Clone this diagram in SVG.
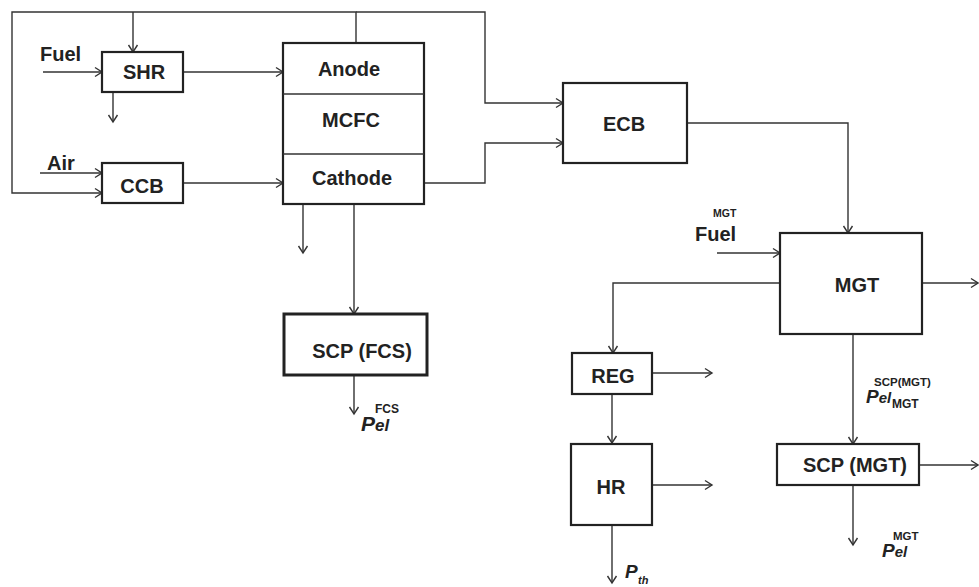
<svg xmlns="http://www.w3.org/2000/svg" width="979" height="587" viewBox="0 0 979 587">
<style>
.ln{fill:none;stroke:#333;stroke-width:1.4;marker-end:url(#ah)}
.ln0{fill:none;stroke:#333;stroke-width:1.4}
.box{fill:#fff;stroke:#222;stroke-width:2.2}
.t{font-family:"Liberation Sans",Arial,sans-serif;font-weight:bold;font-size:20px;fill:#222;text-anchor:middle}
.lab{font-family:"Liberation Sans",Arial,sans-serif;font-weight:bold;font-size:20px;fill:#222}
.sm{font-family:"Liberation Sans",Arial,sans-serif;font-weight:bold;font-size:10.5px;fill:#222}
.p{font-family:"Liberation Sans",Arial,sans-serif;font-weight:bold;font-style:italic;fill:#222}
</style>
<defs>
<marker id="ah" markerUnits="userSpaceOnUse" markerWidth="10" markerHeight="12" refX="8" refY="5" orient="auto" overflow="visible">
<path d="M1,0.5 L8,5 L1,9.5" fill="none" stroke="#333" stroke-width="1.4"/>
</marker>
</defs>
<rect width="979" height="587" fill="#fff"/>
<g id="connectors">
<path class="ln" d="M356,43 V12 H12 V193 H102"/>
<path class="ln" d="M356,12 H485 V103 H563"/>
<path class="ln" d="M133,12 V52"/>
<path class="ln" d="M43,72 H102"/>
<path class="ln" d="M183,72 H283"/>
<path class="ln" d="M113,92 V122"/>
<path class="ln" d="M40,173 H102"/>
<path class="ln" d="M183,183 H283"/>
<path class="ln" d="M424,183 H485 V143 H563"/>
<path class="ln" d="M303,204 V253"/>
<path class="ln" d="M354,204 V314"/>
<path class="ln" d="M354,375 V414"/>
<path class="ln" d="M687,123 H848 V233"/>
<path class="ln" d="M717,253 H780"/>
<path class="ln" d="M922,283 H978"/>
<path class="ln" d="M780,283 H613 V353"/>
<path class="ln" d="M652,373 H712"/>
<path class="ln" d="M612,394 V443"/>
<path class="ln" d="M652,485 H712"/>
<path class="ln" d="M612,525 V583"/>
<path class="ln" d="M853,334 V444"/>
<path class="ln" d="M919,465 H978"/>
<path class="ln" d="M853,485 V545"/>
</g>
<g id="SHR"><rect class="box" x="102" y="52" width="81" height="40"/><text class="t" x="144" y="79">SHR</text></g>
<g id="CCB"><rect class="box" x="102" y="163" width="81" height="40"/><text class="t" x="142" y="193">CCB</text></g>
<g id="MCFC">
<rect class="box" x="283" y="43" width="141" height="161"/>
<line class="ln0" x1="283" y1="94" x2="424" y2="94"/>
<line class="ln0" x1="283" y1="154" x2="424" y2="154"/>
<text class="t" x="349" y="76">Anode</text>
<text class="t" x="351" y="127">MCFC</text>
<text class="t" x="352" y="185">Cathode</text>
</g>
<g id="ECB"><rect class="box" x="563" y="83" width="124" height="80"/><text class="t" x="624" y="131">ECB</text></g>
<g id="MGT"><rect class="box" x="780" y="233" width="142" height="101"/><text class="t" x="857" y="292">MGT</text></g>
<g id="SCP_FCS"><rect class="box" x="284" y="314" width="143" height="61" style="stroke-width:3"/><text class="t" x="362" y="358">SCP (FCS)</text></g>
<g id="REG"><rect class="box" x="572" y="353" width="80" height="41"/><text class="t" x="613" y="383">REG</text></g>
<g id="HR"><rect class="box" x="571" y="444" width="81" height="81"/><text class="t" x="611" y="494">HR</text></g>
<g id="SCP_MGT"><rect class="box" x="777" y="444" width="142" height="41"/><text class="t" x="855" y="472">SCP (MGT)</text></g>
<g id="labels">
<text class="lab" x="40" y="61">Fuel</text>
<text class="lab" x="47" y="170">Air</text>
<text class="sm" x="713" y="217">MGT</text>
<text class="lab" x="695" y="241">Fuel</text>
<text class="p" x="361" y="431" font-size="21">P<tspan font-size="17">el</tspan></text>
<text class="sm" x="375" y="413" style="font-size:12px">FCS</text>
<text class="p" x="866" y="403" font-size="19">P<tspan font-size="15">el</tspan></text>
<text class="sm" x="874" y="386" style="font-size:11.5px">SCP(MGT)</text>
<text class="sm" x="892" y="408" style="font-size:12px">MGT</text>
<text class="p" x="882" y="557" font-size="19">P<tspan font-size="15">el</tspan></text>
<text class="sm" x="893" y="540" style="font-size:11.5px">MGT</text>
<text class="p" x="625" y="578" font-size="19">P</text>
<text class="p" x="638" y="584" font-size="11">th</text>
</g>
</svg>
